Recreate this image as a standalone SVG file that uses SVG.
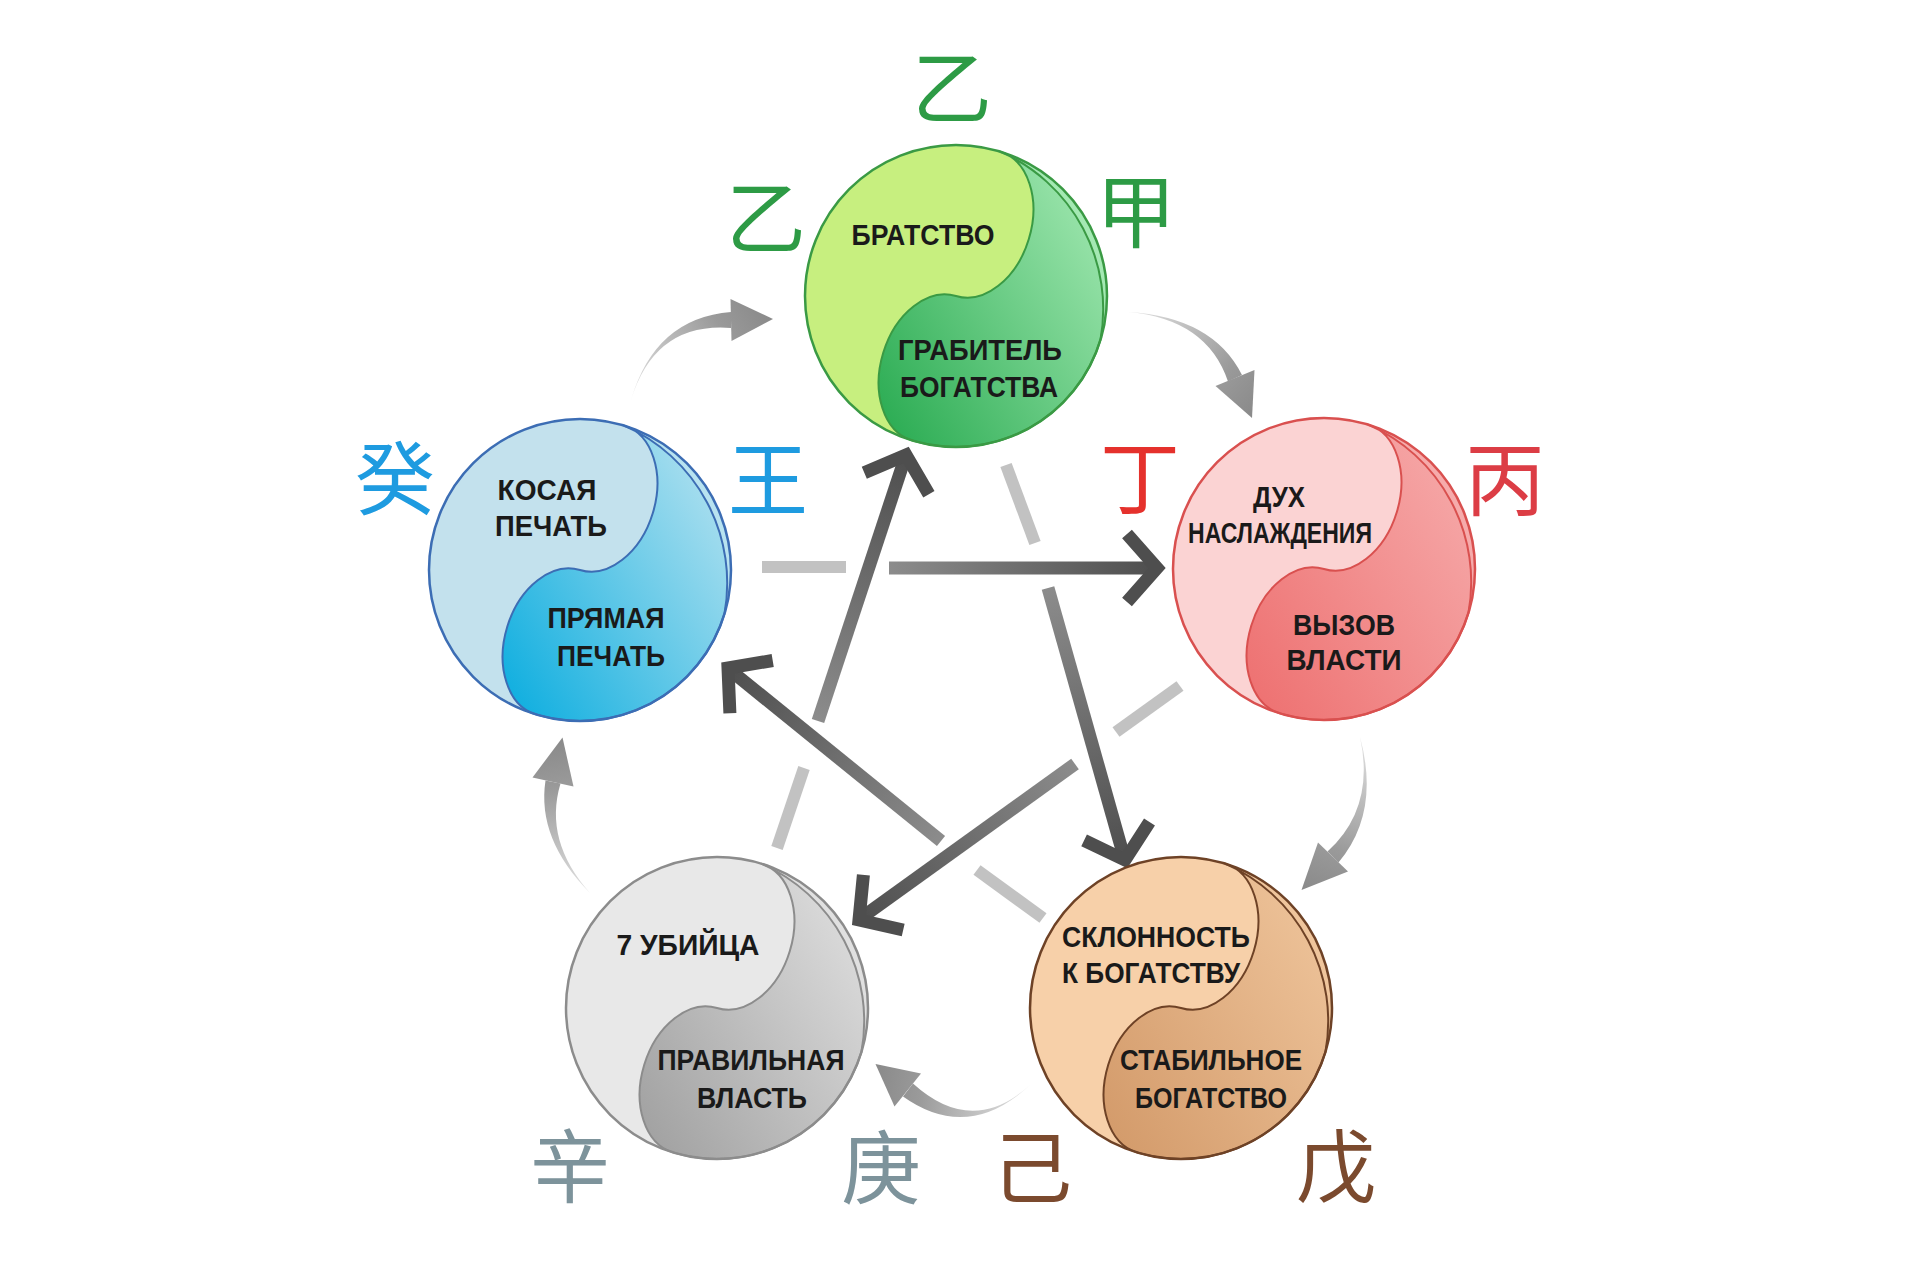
<svg xmlns="http://www.w3.org/2000/svg" width="1920" height="1280" viewBox="0 0 1920 1280">
<defs>
<style>
.lbl{font-family:"Liberation Sans",Arial,sans-serif;font-weight:bold;font-size:29px;fill:#1a1a1a;text-anchor:middle}
.cjk{font-family:"Noto Sans CJK SC","Noto Sans CJK JP",sans-serif;font-size:80px;text-anchor:middle}
.light{stroke:#c2c2c2;stroke-width:12;fill:none}
.shaft{stroke-width:13;fill:none}
.chev{stroke-width:13;fill:none;stroke-linejoin:miter;stroke-miterlimit:10}
</style>
<linearGradient id="gG" x1="0.8" y1="0" x2="0.2" y2="1"><stop offset="0" stop-color="#a4e9b3"/><stop offset="1" stop-color="#2fae56"/></linearGradient>
<linearGradient id="gR" x1="0.8" y1="0" x2="0.2" y2="1"><stop offset="0" stop-color="#f6abab"/><stop offset="1" stop-color="#ee7373"/></linearGradient>
<linearGradient id="gO" x1="0.8" y1="0" x2="0.2" y2="1"><stop offset="0" stop-color="#efc59c"/><stop offset="1" stop-color="#d49c6c"/></linearGradient>
<linearGradient id="gS" x1="0.8" y1="0" x2="0.2" y2="1"><stop offset="0" stop-color="#e0e0e0"/><stop offset="1" stop-color="#a3a3a3"/></linearGradient>
<linearGradient id="gB" x1="0.8" y1="0" x2="0.2" y2="1"><stop offset="0" stop-color="#b8e3f0"/><stop offset="1" stop-color="#14b0e0"/></linearGradient>
<linearGradient id="c1" gradientUnits="userSpaceOnUse" x1="631" y1="400" x2="771" y2="319"><stop offset="0" stop-color="#e2e2e2"/><stop offset="0.7" stop-color="#9a9a9a"/><stop offset="1" stop-color="#8a8a8a"/></linearGradient>
<linearGradient id="c2" gradientUnits="userSpaceOnUse" x1="1128" y1="312" x2="1251" y2="417"><stop offset="0" stop-color="#e2e2e2"/><stop offset="0.7" stop-color="#9a9a9a"/><stop offset="1" stop-color="#8a8a8a"/></linearGradient>
<linearGradient id="c3" gradientUnits="userSpaceOnUse" x1="1360" y1="737" x2="1303" y2="889"><stop offset="0" stop-color="#e2e2e2"/><stop offset="0.7" stop-color="#9a9a9a"/><stop offset="1" stop-color="#8a8a8a"/></linearGradient>
<linearGradient id="c4" gradientUnits="userSpaceOnUse" x1="1030" y1="1085" x2="877" y2="1065"><stop offset="0" stop-color="#e2e2e2"/><stop offset="0.7" stop-color="#9a9a9a"/><stop offset="1" stop-color="#8a8a8a"/></linearGradient>
<linearGradient id="c5" gradientUnits="userSpaceOnUse" x1="590" y1="893" x2="563" y2="739"><stop offset="0" stop-color="#e2e2e2"/><stop offset="0.7" stop-color="#9a9a9a"/><stop offset="1" stop-color="#8a8a8a"/></linearGradient>
<linearGradient id="d1" gradientUnits="userSpaceOnUse" x1="889" y1="568" x2="1157" y2="568"><stop offset="0" stop-color="#8c8c8c"/><stop offset="1" stop-color="#4e4e4e"/></linearGradient>
<linearGradient id="d2" gradientUnits="userSpaceOnUse" x1="818" y1="721" x2="906" y2="455"><stop offset="0" stop-color="#8c8c8c"/><stop offset="1" stop-color="#4e4e4e"/></linearGradient>
<linearGradient id="d3" gradientUnits="userSpaceOnUse" x1="1048" y1="588" x2="1125" y2="860"><stop offset="0" stop-color="#8c8c8c"/><stop offset="1" stop-color="#4e4e4e"/></linearGradient>
<linearGradient id="d4" gradientUnits="userSpaceOnUse" x1="1075" y1="764" x2="859" y2="920"><stop offset="0" stop-color="#8c8c8c"/><stop offset="1" stop-color="#4e4e4e"/></linearGradient>
<linearGradient id="d5" gradientUnits="userSpaceOnUse" x1="941" y1="841" x2="728" y2="668"><stop offset="0" stop-color="#8c8c8c"/><stop offset="1" stop-color="#4e4e4e"/></linearGradient>
</defs>
<rect width="1920" height="1280" fill="#ffffff"/>

<g id="connectors">
  <g id="gen1" fill="url(#c1)">
    <path d="M631,400 Q655,322 731,328 L731,312 Q655,318 631,400 Z"/>
    <polygon points="731.5,341 773,319 730.5,299"/>
  </g>
  <g id="gen2" fill="url(#c2)">
    <path d="M1128,312 Q1207,319 1228,381.5 L1242,375 Q1213,317 1128,312 Z"/>
    <polygon points="1215.5,386 1252,418 1254.5,370"/>
  </g>
  <g id="gen3" fill="url(#c3)">
    <path d="M1360,737 Q1375.5,807.6 1327.5,851.5 L1338.5,862.5 Q1380.5,812.4 1360,737 Z"/>
    <polygon points="1318,842.5 1301.5,890 1348,871.5"/>
  </g>
  <g id="gen4" fill="url(#c4)">
    <path d="M1030,1085 Q972.2,1137.3 913,1083.5 L903,1096.5 Q967.8,1142.7 1030,1085 Z"/>
    <polygon points="921,1073.5 875.5,1064 894.5,1106.5"/>
  </g>
  <g id="gen5" fill="url(#c5)">
    <path d="M590,893 Q543.4,840.8 560.5,783.5 L545.5,780.5 Q536.6,839.2 590,893 Z"/>
    <polygon points="573.5,786.5 562.5,737.5 532.5,777.5"/>
  </g>

  <g id="ctl1">
    <line class="light" x1="762" y1="567" x2="846" y2="567"/>
    <line class="shaft" stroke="url(#d1)" x1="889" y1="568" x2="1155" y2="568"/>
    <polyline class="chev" stroke="#4e4e4e" points="1127,534 1157,568 1127,602"/>
  </g>
  <g id="ctl2">
    <line class="light" x1="777" y1="848" x2="804" y2="768"/>
    <line class="shaft" stroke="url(#d2)" x1="818" y1="721" x2="905" y2="458"/>
    <polyline class="chev" stroke="#4e4e4e" points="864.3,472.8 906,455 928.9,494.2"/>
  </g>
  <g id="ctl3">
    <line class="light" x1="1006" y1="465" x2="1035" y2="543"/>
    <line class="shaft" stroke="url(#d3)" x1="1048" y1="588" x2="1124" y2="857"/>
    <polyline class="chev" stroke="#4e4e4e" points="1084.1,840.3 1125,860 1149.5,821.9"/>
  </g>
  <g id="ctl4">
    <line class="light" x1="1180" y1="686" x2="1116" y2="732"/>
    <line class="shaft" stroke="url(#d4)" x1="1075" y1="764" x2="861" y2="918"/>
    <polyline class="chev" stroke="#4e4e4e" points="863.4,874.8 859,920 903.2,930"/>
  </g>
  <g id="ctl5">
    <line class="light" x1="1043" y1="918" x2="977" y2="870"/>
    <line class="shaft" stroke="url(#d5)" x1="941" y1="841" x2="730" y2="670"/>
    <polyline class="chev" stroke="#4e4e4e" points="772.7,660.5 728,668 729.9,713.3"/>
  </g>
</g>

<g id="node-wood">
  <g transform="translate(956,296)">
    <circle r="151" fill="#a4e9b3"/>
    <g transform="rotate(17)">
      <path d="M0,-151 A53,75.5 0 0 1 0,0 A53,75.5 0 0 0 0,151 A151,151 0 0 1 0,-151 Z" fill="#c7ef7f"/>
      <path d="M0,-151 A53,75.5 0 0 1 0,0 A53,75.5 0 0 0 0,151 A151,151 0 0 0 151,0 A172,172 0 0 0 0,-151 Z" fill="url(#gG)" stroke="#3a9a44" stroke-width="2"/>
    </g>
    <circle r="151" fill="none" stroke="#3a9a44" stroke-width="2.5"/>
  </g>
  <text class="lbl" x="923" y="245" textLength="143" lengthAdjust="spacingAndGlyphs">БРАТСТВО</text>
  <text class="lbl" x="980" y="360" textLength="164" lengthAdjust="spacingAndGlyphs">ГРАБИТЕЛЬ</text>
  <text class="lbl" x="979" y="397" textLength="158" lengthAdjust="spacingAndGlyphs">БОГАТСТВА</text>
  <text class="cjk" x="952" y="117" fill="#2d9b45">乙</text>
  <text class="cjk" x="766" y="247" fill="#2d9b45">乙</text>
  <text class="cjk" x="1136" y="241" fill="#2d9b45">甲</text>
</g>

<g id="node-fire">
  <g transform="translate(1324,569)">
    <circle r="151" fill="#f6abab"/>
    <g transform="rotate(17)">
      <path d="M0,-151 A53,75.5 0 0 1 0,0 A53,75.5 0 0 0 0,151 A151,151 0 0 1 0,-151 Z" fill="#fbd3d3"/>
      <path d="M0,-151 A53,75.5 0 0 1 0,0 A53,75.5 0 0 0 0,151 A151,151 0 0 0 151,0 A172,172 0 0 0 0,-151 Z" fill="url(#gR)" stroke="#d9504f" stroke-width="2"/>
    </g>
    <circle r="151" fill="none" stroke="#d9504f" stroke-width="2.5"/>
  </g>
  <text class="lbl" x="1279" y="507" textLength="52" lengthAdjust="spacingAndGlyphs">ДУХ</text>
  <text class="lbl" x="1280" y="543" textLength="184" lengthAdjust="spacingAndGlyphs">НАСЛАЖДЕНИЯ</text>
  <text class="lbl" x="1344" y="635" textLength="102" lengthAdjust="spacingAndGlyphs">ВЫЗОВ</text>
  <text class="lbl" x="1344" y="670" textLength="115" lengthAdjust="spacingAndGlyphs">ВЛАСТИ</text>
  <text class="cjk" x="1140" y="507" fill="#e5312c">丁</text>
  <text class="cjk" x="1505" y="509" fill="#dc3d45">丙</text>
</g>

<g id="node-earth">
  <g transform="translate(1181,1008)">
    <circle r="151" fill="#efc59c"/>
    <g transform="rotate(17)">
      <path d="M0,-151 A53,75.5 0 0 1 0,0 A53,75.5 0 0 0 0,151 A151,151 0 0 1 0,-151 Z" fill="#f7d0a9"/>
      <path d="M0,-151 A53,75.5 0 0 1 0,0 A53,75.5 0 0 0 0,151 A151,151 0 0 0 151,0 A172,172 0 0 0 0,-151 Z" fill="url(#gO)" stroke="#6e4226" stroke-width="2"/>
    </g>
    <circle r="151" fill="none" stroke="#6e4226" stroke-width="2.5"/>
  </g>
  <text class="lbl" x="1156" y="947" textLength="188" lengthAdjust="spacingAndGlyphs">СКЛОННОСТЬ</text>
  <text class="lbl" x="1151" y="983" textLength="178" lengthAdjust="spacingAndGlyphs">К БОГАТСТВУ</text>
  <text class="lbl" x="1211" y="1070" textLength="182" lengthAdjust="spacingAndGlyphs">СТАБИЛЬНОЕ</text>
  <text class="lbl" x="1211" y="1108" textLength="152" lengthAdjust="spacingAndGlyphs">БОГАТСТВО</text>
  <text class="cjk" x="1032" y="1197" fill="#7b4a2e">己</text>
  <text class="cjk" x="1336" y="1196" fill="#7b4a2e">戊</text>
</g>

<g id="node-metal">
  <g transform="translate(717,1008)">
    <circle r="151" fill="#e0e0e0"/>
    <g transform="rotate(17)">
      <path d="M0,-151 A53,75.5 0 0 1 0,0 A53,75.5 0 0 0 0,151 A151,151 0 0 1 0,-151 Z" fill="#e8e8e8"/>
      <path d="M0,-151 A53,75.5 0 0 1 0,0 A53,75.5 0 0 0 0,151 A151,151 0 0 0 151,0 A172,172 0 0 0 0,-151 Z" fill="url(#gS)" stroke="#8c8c8c" stroke-width="2"/>
    </g>
    <circle r="151" fill="none" stroke="#8c8c8c" stroke-width="2.5"/>
  </g>
  <text class="lbl" x="688" y="955" textLength="143" lengthAdjust="spacingAndGlyphs">7 УБИЙЦА</text>
  <text class="lbl" x="751" y="1070" textLength="187" lengthAdjust="spacingAndGlyphs">ПРАВИЛЬНАЯ</text>
  <text class="lbl" x="752" y="1108" textLength="110" lengthAdjust="spacingAndGlyphs">ВЛАСТЬ</text>
  <text class="cjk" x="570" y="1196" fill="#7d939b">辛</text>
  <text class="cjk" x="881" y="1197" fill="#7d939b">庚</text>
</g>

<g id="node-water">
  <g transform="translate(580,570)">
    <circle r="151" fill="#b8e3f0"/>
    <g transform="rotate(17)">
      <path d="M0,-151 A53,75.5 0 0 1 0,0 A53,75.5 0 0 0 0,151 A151,151 0 0 1 0,-151 Z" fill="#c3e1ed"/>
      <path d="M0,-151 A53,75.5 0 0 1 0,0 A53,75.5 0 0 0 0,151 A151,151 0 0 0 151,0 A172,172 0 0 0 0,-151 Z" fill="url(#gB)" stroke="#3c6db4" stroke-width="2"/>
    </g>
    <circle r="151" fill="none" stroke="#3c6db4" stroke-width="2.5"/>
  </g>
  <text class="lbl" x="547" y="500" textLength="99" lengthAdjust="spacingAndGlyphs">КОСАЯ</text>
  <text class="lbl" x="551" y="536" textLength="112" lengthAdjust="spacingAndGlyphs">ПЕЧАТЬ</text>
  <text class="lbl" x="606" y="628" textLength="117" lengthAdjust="spacingAndGlyphs">ПРЯМАЯ</text>
  <text class="lbl" x="611" y="666" textLength="108" lengthAdjust="spacingAndGlyphs">ПЕЧАТЬ</text>
  <text class="cjk" x="395" y="508" fill="#1e9be0">癸</text>
  <text class="cjk" x="768" y="509" fill="#1e9be0">王</text>
</g>
</svg>
